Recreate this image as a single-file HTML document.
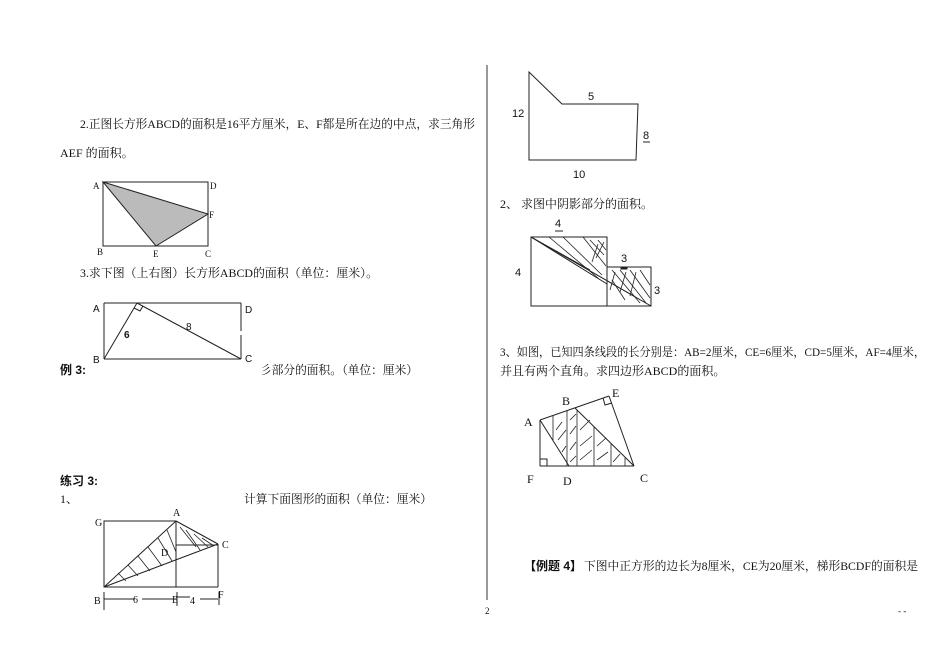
<!DOCTYPE html>
<html><head><meta charset="utf-8"><style>
html,body{margin:0;padding:0;background:#fff;}
svg{display:block;}
text{font-family:"Liberation Serif","Noto Serif CJK SC","Noto Sans CJK SC",serif;font-size:12px;fill:#111;}
.s{font-family:"Liberation Sans","Noto Sans CJK SC",sans-serif;}
.b{font-weight:bold;font-family:"Liberation Sans","Noto Sans CJK SC",sans-serif;}
</style></head><body>
<svg width="950" height="672" viewBox="0 0 950 672" xmlns="http://www.w3.org/2000/svg">
<rect width="950" height="672" fill="#fff"/>
<line x1="487" y1="65" x2="487" y2="600" stroke="#333" stroke-width="1"/>
<text x="485" y="614" style="font-size:9px">2</text>
<text x="898" y="614" style="font-size:9px">-  -</text>

<!-- Left column text -->
<text x="80" y="128" textLength="395" lengthAdjust="spacingAndGlyphs">2.正图长方形ABCD的面积是16平方厘米，E、F都是所在边的中点，求三角形</text>
<text x="60" y="157">AEF 的面积。</text>

<!-- Fig1 -->
<g stroke="#222" stroke-width="1" fill="none">
<rect x="103" y="182" width="105" height="64"/>
<polygon points="103,182 208,214 156,246" fill="#bbb"/>
</g>
<g style="font-size:9px">
<text x="93" y="189" style="font-size:9px">A</text>
<text x="210" y="189" style="font-size:9px">D</text>
<text x="209" y="218" style="font-size:9px">F</text>
<text x="97" y="255" style="font-size:9px">B</text>
<text x="153" y="257" style="font-size:9px">E</text>
<text x="205" y="257" style="font-size:9px">C</text>
</g>
<text x="80" y="277" textLength="298" lengthAdjust="spacingAndGlyphs">3.求下图（上右图）长方形ABCD的面积（单位：厘米）。</text>

<!-- Fig2 -->
<g stroke="#222" stroke-width="1" fill="none">
<line x1="104" y1="303" x2="241" y2="303"/>
<line x1="104" y1="303" x2="104" y2="359"/>
<line x1="104" y1="359" x2="241" y2="359"/>
<line x1="241" y1="303" x2="241" y2="331"/>
<line x1="241" y1="335" x2="241" y2="359"/>
<line x1="137" y1="303" x2="104" y2="359"/>
<line x1="137" y1="303" x2="241" y2="359"/>
<polyline points="134,308 140,311 143,306"/>
</g>
<text x="93" y="312" class="s" style="font-size:10px">A</text>
<text x="245" y="313" class="s" style="font-size:10px">D</text>
<text x="93" y="363" class="s" style="font-size:10px">B</text>
<text x="245" y="362" class="s" style="font-size:10px">C</text>
<text x="124" y="338" class="s" style="font-size:10px;font-weight:bold">6</text>
<text x="186" y="330" class="s" style="font-size:10px">8</text>
<text x="60" y="374" class="b">例 3:</text>
<text x="260" y="374" textLength="158" lengthAdjust="spacingAndGlyphs">彡部分的面积。（单位：厘米）</text>

<text x="60" y="485" class="b">练习 3:</text>
<text x="60" y="503">1、</text>
<text x="244" y="503" textLength="188" lengthAdjust="spacingAndGlyphs">计算下面图形的面积（单位：厘米）</text>

<!-- Fig3 -->
<g stroke="#222" stroke-width="1" fill="none">
<rect x="104" y="521" width="72" height="66"/>
<line x1="176" y1="521" x2="218" y2="544"/>
<line x1="218" y1="544" x2="218" y2="587"/>
<line x1="176" y1="587" x2="218" y2="587"/>
<line x1="176" y1="545" x2="218" y2="545"/>
<line x1="104" y1="587" x2="176" y2="521"/>
<line x1="104" y1="587" x2="218" y2="544"/>
<g stroke-width="0.8">
<line x1="118" y1="573" x2="126" y2="581"/>
<line x1="128" y1="565" x2="138" y2="576"/>
<line x1="138" y1="556" x2="150" y2="571"/>
<line x1="148" y1="547" x2="162" y2="566"/>
<line x1="158" y1="538" x2="172" y2="561"/>
<line x1="167" y1="530" x2="176" y2="552"/>
<line x1="180" y1="527" x2="196" y2="547"/>
<line x1="186" y1="530" x2="200" y2="550"/>
<line x1="194" y1="534" x2="208" y2="547"/>
<line x1="202" y1="538" x2="214" y2="546"/>
</g>
<line x1="104" y1="599" x2="135" y2="599"/>
<line x1="142" y1="599" x2="176" y2="599"/>
<line x1="176" y1="597" x2="190" y2="597"/>
<line x1="200" y1="599" x2="218" y2="599"/>
<line x1="104" y1="592" x2="104" y2="610"/>
<line x1="177" y1="592" x2="177" y2="606"/>
<line x1="219" y1="592" x2="219" y2="605"/>
</g>
<text x="95" y="526" style="font-size:10px">G</text>
<text x="173" y="516" style="font-size:10px">A</text>
<text x="222" y="548" style="font-size:10px">C</text>
<text x="161" y="556" style="font-size:10px">D</text>
<text x="94" y="604" style="font-size:10px">B</text>
<text x="133" y="603" style="font-size:10px">6</text>
<text x="172" y="603" style="font-size:10px">E</text>
<text x="190" y="604" style="font-size:10px">4</text>
<text x="218" y="598" style="font-size:10px">F</text>

<!-- Fig4 -->
<polygon points="529,72 562,104 638,104 636,160 529,160" fill="none" stroke="#222" stroke-width="1"/>
<text x="512" y="117" class="s" style="font-size:11px">12</text>
<text x="588" y="100" class="s" style="font-size:11px">5</text>
<text x="643" y="139" class="s" style="font-size:11px">8</text>
<line x1="643" y1="142" x2="650" y2="142" stroke="#223" stroke-width="1"/>
<text x="573" y="178" class="s" style="font-size:11px">10</text>

<text x="500" y="208">2、 求图中阴影部分的面积。</text>

<!-- Fig5 -->
<g stroke="#222" stroke-width="1" fill="none">
<rect x="531" y="237" width="76" height="69"/>
<rect x="607" y="267" width="44" height="39"/>
<line x1="531" y1="237" x2="651" y2="306"/>
<line x1="531" y1="237" x2="607" y2="284"/>
<line x1="531" y1="237" x2="590" y2="270"/>
<g stroke-width="0.8">
<line x1="549" y1="237" x2="598" y2="278"/>
<line x1="563" y1="237" x2="602" y2="275"/>
<line x1="583" y1="237" x2="606" y2="266"/>
<line x1="590" y1="240" x2="604" y2="255"/>
<line x1="598" y1="240" x2="606" y2="250"/>
<line x1="604" y1="242" x2="596" y2="258"/>
<line x1="598" y1="244" x2="592" y2="262"/>
<line x1="612" y1="270" x2="640" y2="303"/>
<line x1="620" y1="270" x2="646" y2="303"/>
<line x1="630" y1="270" x2="650" y2="298"/>
<line x1="640" y1="270" x2="650" y2="285"/>
<line x1="612" y1="280" x2="625" y2="300"/>
<line x1="615" y1="272" x2="610" y2="290"/>
<line x1="626" y1="272" x2="620" y2="292"/>
<line x1="636" y1="272" x2="630" y2="296"/>
</g>
<rect x="621" y="267" width="6" height="2" fill="#222"/>
</g>
<text x="555" y="227" class="s" style="font-size:11px">4</text>
<line x1="555" y1="231" x2="563" y2="231" stroke="#223"/>
<text x="515" y="276" class="s" style="font-size:11px">4</text>
<text x="621" y="262" class="s" style="font-size:11px">3</text>
<text x="654" y="294" class="s" style="font-size:11px">3</text>

<text x="500" y="356" textLength="425" lengthAdjust="spacingAndGlyphs">3、如图，已知四条线段的长分别是：AB=2厘米，CE=6厘米，CD=5厘米，AF=4厘米，</text>
<text x="500" y="375">并且有两个直角。求四边形ABCD的面积。</text>

<!-- Fig6 -->
<g stroke="#222" stroke-width="1" fill="none">
<line x1="540" y1="420" x2="609" y2="396"/>
<line x1="609" y1="396" x2="634" y2="466"/>
<line x1="540" y1="466" x2="634" y2="466"/>
<line x1="540" y1="420" x2="540" y2="466"/>
<line x1="540" y1="420" x2="569" y2="466"/>
<line x1="575" y1="408" x2="634" y2="466"/>
<polyline points="540,459 547,459 547,466"/>
<polyline points="603,398 605,405 612,403"/>
<g stroke-width="0.8">
<line x1="553" y1="416" x2="553" y2="440"/>
<line x1="567" y1="411" x2="567" y2="466"/>
<line x1="577" y1="410" x2="577" y2="466"/>
<line x1="594" y1="427" x2="594" y2="466"/>
<line x1="611" y1="444" x2="611" y2="466"/>
<line x1="625" y1="458" x2="625" y2="466"/>
<line x1="556" y1="430" x2="562" y2="422"/>
<line x1="558" y1="440" x2="566" y2="430"/>
<line x1="562" y1="452" x2="566" y2="446"/>
<line x1="570" y1="420" x2="576" y2="414"/>
<line x1="570" y1="434" x2="576" y2="426"/>
<line x1="570" y1="450" x2="576" y2="442"/>
<line x1="570" y1="462" x2="576" y2="456"/>
<line x1="580" y1="430" x2="590" y2="420"/>
<line x1="580" y1="446" x2="592" y2="436"/>
<line x1="580" y1="460" x2="592" y2="450"/>
<line x1="597" y1="446" x2="606" y2="438"/>
<line x1="597" y1="460" x2="608" y2="452"/>
<line x1="613" y1="462" x2="620" y2="454"/>
</g>
</g>
<text x="524" y="426" style="font-size:12px">A</text>
<text x="562" y="405" style="font-size:12px">B</text>
<text x="612" y="397" style="font-size:12px">E</text>
<text x="527" y="483" style="font-size:12px">F</text>
<text x="563" y="485" style="font-size:12px">D</text>
<text x="640" y="482" style="font-size:12px">C</text>

<text x="524" y="570" class="b">【例题 4】</text>
<text x="584" y="570" textLength="334" lengthAdjust="spacingAndGlyphs">下图中正方形的边长为8厘米，CE为20厘米，梯形BCDF的面积是</text>
</svg>
</body></html>
